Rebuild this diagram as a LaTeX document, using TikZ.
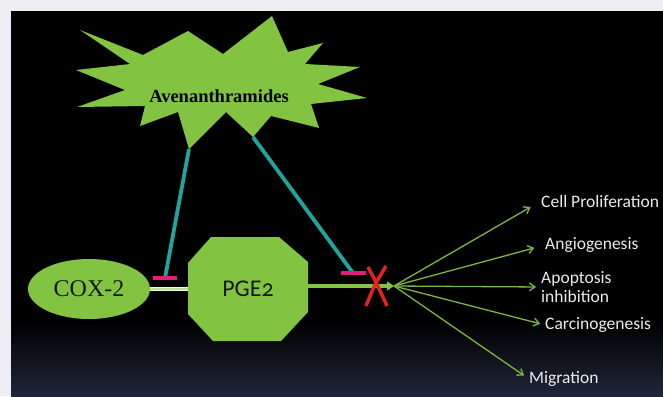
\documentclass[tikz,border=0pt]{standalone}
\usepackage{fontspec}
\setmainfont{Liberation Serif}
\newfontfamily\calfont{Carlito}[Numbers=OldStyle]
\usetikzlibrary{arrows.meta,shapes.geometric,calc}
\definecolor{outerbg}{RGB}{239,237,244}
\definecolor{leaf}{RGB}{130,196,66}
\definecolor{fanline}{RGB}{122,182,64}
\definecolor{tealc}{RGB}{32,165,158}
\definecolor{magentac}{RGB}{226,30,122}
\definecolor{redx}{RGB}{232,32,38}
\definecolor{bottomblue}{RGB}{30,38,56}
\definecolor{labeltext}{RGB}{236,236,236}
\definecolor{darktext}{RGB}{25,25,25}
\tikzset{
  lbl/.style={anchor=west, inner sep=0pt, text=labeltext, font=\calfont\fontsize{17.5}{19.5}\selectfont, align=left},
  fan/.style={draw=fanline, line width=1.3pt, -{Straight Barb[length=5.5pt,width=8pt]}},
  inhib/.style={draw=tealc, line width=3.8pt},
  tbar/.style={draw=magentac, line width=3.8pt},
}
\begin{document}
\begin{tikzpicture}[x=1pt,y=-1pt]
\useasboundingbox (0,0) rectangle (663,396);
% background
\fill[outerbg] (0,0) rectangle (663,396);
\fill[black] (11,11) rectangle (663,321);
\shade[top color=black, bottom color=bottomblue] (11,320) rectangle (663,396);

% star
\fill[leaf] (80,30) -- (143,55) -- (188,31) -- (223,54) -- (272,16) -- (288,52)
  -- (323,43) -- (305,64) -- (360,67) -- (318,84) -- (367,98) -- (311,104)
  -- (319,128) -- (271,116) -- (253,137) -- (226,112) -- (189,149) -- (178,112)
  -- (140,126) -- (145,106) -- (77,107) -- (125,90) -- (76,70) -- (130,64) -- cycle;
\node (av) at (219,96) {\bfseries\fontsize{18.5}{20}\selectfont Avenanthramides};
\coordinate (tipA) at (189,149);
\coordinate (tipB) at (253,137);

% COX-2
\node (cox) [ellipse, fill=leaf, minimum width=122pt, minimum height=60pt, inner sep=0pt,
  font=\fontsize{24}{26}\selectfont, text=darktext] at (89,289) {COX-2};

% PGE2 octagon
\node (pge) [minimum width=120pt, minimum height=104pt, inner sep=0pt] at (248,289) {};
\fill[leaf] (211,237) -- (279,237) -- (308,262) -- (308,312) -- (281,341)
  -- (213,341) -- (188,314) -- (188,263) -- cycle;
\node at (pge.center) [text=darktext, font=\calfont\fontsize{24}{26}\selectfont] {PGE2};

% COX-2 -> PGE2 double line
\draw[draw=white!90!leaf, double=leaf!55!white, double distance=1.6pt, line width=1pt]
  (cox.east) -- (pge.west);

% fan origin and main arrow
\coordinate (fo) at (394,286);
\draw[draw=leaf, line width=4pt, -{Triangle[length=7pt,width=9pt]}]
  (pge.east |- fo) -- (fo);

% labels
\node (cp) [lbl] at (541,201) {Cell Proliferation};
\node (an) [lbl] at (545,245) {Angiogenesis};
\node (ap) [lbl] at (541,287) {Apoptosis\\inhibition};
\node (ca) [lbl] at (545,325) {Carcinogenesis};
\node (mi) [lbl] at (529,379) {Migration};

\draw[fan, shorten >=12pt] (fo) -- (cp.west);
\draw[fan, shorten >=11pt] (fo) -- (an.west);
\draw[fan, shorten >=5pt] (fo) -- (ap.west);
\draw[fan, shorten >=5pt] (fo) -- (ca.west);
\draw[fan, shorten >=6pt] (fo) -- (mi.west);

% inhibition lines
\coordinate (barA) at (165,278);
\coordinate (barB) at (353,273);
\draw[inhib] (tipA) -- (barA);
\draw[inhib] (tipB) -- (barB);
\draw[tbar] ($(barA)+(-12,0)$) -- ($(barA)+(12,0)$);
\draw[tbar] ($(barB)+(-12,0)$) -- ($(barB)+(13,0)$);

% red X
\draw[redx, line width=3.4pt] (368,267) .. controls (376,282) .. (387,306);
\draw[redx, line width=3.4pt] (386,266) .. controls (374,286) .. (366,306);
\end{tikzpicture}
\end{document}
